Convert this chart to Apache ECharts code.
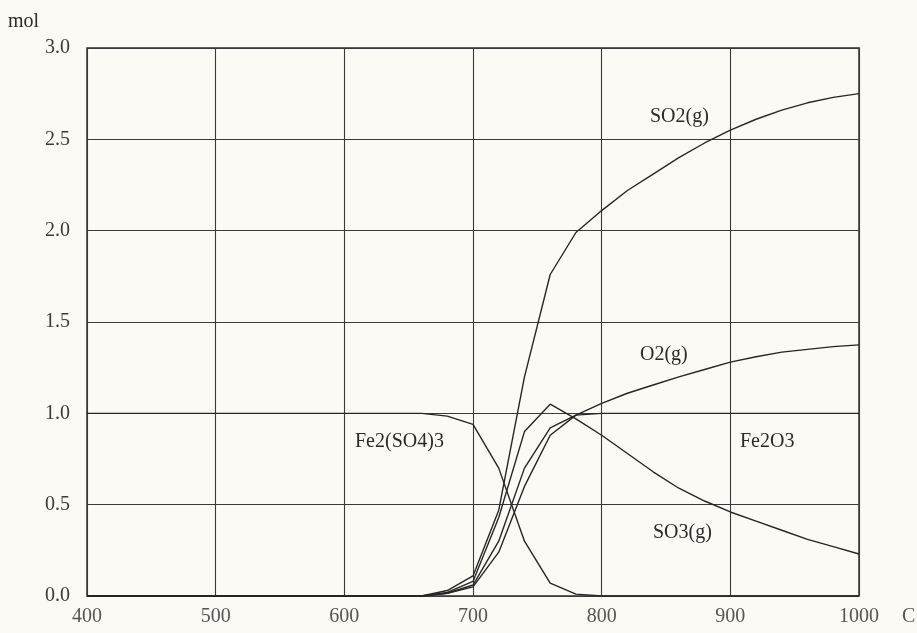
<!DOCTYPE html>
<html>
<head>
<meta charset="utf-8">
<script src="https://cdn.jsdelivr.net/npm/echarts@6/dist/echarts.min.js"></script>
<style>
html,body{margin:0;padding:0;background:#fbfaf4;}
#chart{width:917px;height:633px;}
</style>
</head>
<body>
<div id="chart"></div>
<script>
var temps = [400,420,440,460,480,500,520,540,560,580,600,620,640,660,680,700,720,740,760,780,800,820,840,860,880,900,920,940,960,980,1000];
var so2 = [0,0,0,0,0,0,0,0,0,0,0,0,0,0,0.03,0.11,0.47,1.20,1.76,1.99,2.11,2.22,2.31,2.40,2.48,2.55,2.61,2.66,2.70,2.73,2.75];
var o2 = [0,0,0,0,0,0,0,0,0,0,0,0,0,0,0.015,0.05,0.24,0.60,0.88,0.99,1.055,1.11,1.155,1.20,1.24,1.28,1.31,1.335,1.35,1.365,1.375];
var so3 = [0,0,0,0,0,0,0,0,0,0,0,0,0,0,0.02,0.08,0.43,0.90,1.05,0.97,0.88,0.78,0.68,0.59,0.52,0.46,0.41,0.36,0.31,0.27,0.23];
var fe2so43 = [1,1,1,1,1,1,1,1,1,1,1,1,1,1,0.985,0.94,0.70,0.30,0.07,0.01,0,0,0,0,0,0,0,0,0,0,0];
var fe2o3 = [0,0,0,0,0,0,0,0,0,0,0,0,0,0,0.015,0.06,0.30,0.70,0.92,0.99,1,1,1,1,1,1,1,1,1,1,1];
var seriesNames = ['SO2(g)','O2(g)','SO3(g)','Fe2(SO4)3','Fe2O3'];
var xTicks = [400,500,600,700,800,900,1000];
var yTicks = [0,0.5,1.0,1.5,2.0,2.5,3.0];

function pairs(vals){ return temps.map(function(t,i){ return [t, vals[i]]; }); }

var chart = echarts.init(document.getElementById('chart'));
var font = '"Liberation Serif", "DejaVu Serif", serif';
var lineStyle = {color:'#262626', width:1.4};
function mk(name, vals){
  return {name:name, type:'line', data:pairs(vals), showSymbol:false, symbol:'none', smooth:false,
          lineStyle:lineStyle, silent:true, animation:false};
}
function lbl(text, x, y, color){
  return {type:'text', style:{text:text, x:x, y:y, textAlign:'left', textVerticalAlign:'middle',
          fill:color || '#2a2a2a', font:'20px '+font}};
}
chart.setOption({
  backgroundColor:'#fbfaf4',
  animation:false,
  grid:{left:87, right:58, top:48, bottom:37, show:true, borderColor:'#2e2e2e', borderWidth:1.5, backgroundColor:'transparent'},
  xAxis:{type:'value', min:xTicks[0], max:xTicks[xTicks.length-1], interval:100,
    axisLine:{show:false}, axisTick:{show:false},
    splitLine:{show:true, lineStyle:{color:'#3a3a3a', width:1.1}},
    axisLabel:{margin:11, color:'#555', fontFamily:font, fontSize:20,
      formatter:function(v){return String(v);}}},
  yAxis:{type:'value', min:yTicks[0], max:yTicks[yTicks.length-1], interval:0.5,
    axisLine:{show:false}, axisTick:{show:false},
    splitLine:{show:true, lineStyle:{color:'#3a3a3a', width:1.1}},
    axisLabel:{margin:17, color:'#3a3a3a', fontFamily:font, fontSize:20,
      formatter:function(v){return v.toFixed(1);}}},
  series:[mk(seriesNames[0],so2), mk(seriesNames[1],o2), mk(seriesNames[2],so3), mk(seriesNames[3],fe2so43), mk(seriesNames[4],fe2o3)],
  graphic:[
    lbl('mol', 8, 22),
    lbl('C', 902, 617, '#555'),
    lbl(seriesNames[0], 650, 117),
    lbl(seriesNames[1], 640, 355),
    lbl(seriesNames[2], 653, 533),
    lbl(seriesNames[3], 355, 442),
    lbl(seriesNames[4], 740, 442)
  ]
});
</script>
</body>
</html>
